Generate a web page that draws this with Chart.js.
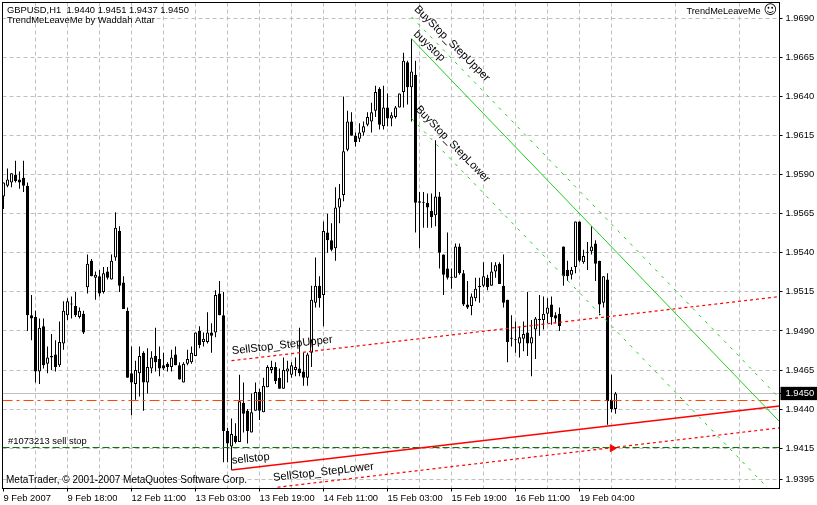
<!DOCTYPE html>
<html>
<head>
<meta charset="utf-8">
<title>GBPUSD,H1</title>
<script src="https://cdn.jsdelivr.net/npm/chart.js@4/dist/chart.umd.min.js"></script>
<style>
  html, body { margin: 0; padding: 0; background: #fff; }
  canvas { display: block; }
</style>
</head>
<body>
<canvas id="chart" width="817" height="505"></canvas>
<script>
const opens = [
  1.9576,1.9583,1.9585,1.9590,1.9587,1.9588,1.9583,1.9500,1.9499,1.9464,
  1.9493,1.9469,1.9473,1.9475,1.9468,1.9482,1.9500,1.9507,1.9506,1.9499,
  1.9501,1.9518,1.9535,1.9524,1.9525,1.9515,1.9528,1.9523,1.9537,1.9554,
  1.9521,1.9503,1.9463,1.9456,1.9463,1.9476,1.9457,1.9466,1.9474,1.9472,
  1.9468,1.9469,1.9467,1.9475,1.9468,1.9457,1.9469,1.9470,1.9474,1.9490,
  1.9483,1.9483,1.9489,1.9489,1.9514,1.9500,1.9426,1.9416,1.9423,1.9419,
  1.9444,1.9439,1.9425,1.9439,1.9451,1.9438,1.9454,1.9465,1.9467,1.9460,
  1.9453,1.9464,1.9462,1.9465,1.9466,1.9464,1.9460,1.9476,1.9508,1.9519,
  1.9513,1.9553,1.9548,1.9543,1.9569,1.9577,1.9606,1.9624,1.9615,1.9613,
  1.9617,1.9622,1.9624,1.9631,1.9645,1.9621,1.9633,1.9626,1.9627,1.9633,
  1.9643,1.9662,1.9646,1.9654,1.9573,1.9572,1.9572,1.9567,1.9564,1.9576,
  1.9539,1.9530,1.9524,1.9524,1.9544,1.9527,1.9507,1.9506,1.9511,1.9518,
  1.9519,1.9524,1.9519,1.9528,1.9533,1.9519,1.9510,1.9485,1.9484,1.9482,
  1.9485,1.9489,1.9482,1.9491,1.9497,1.9497,1.9501,1.9507,1.9500,1.9501,
  1.9544,1.9529,1.9526,1.9531,1.9560,1.9534,1.9540,1.9541,1.9546,1.9535,
  1.9508,1.9523,1.9446,1.9440
];
const highs = [
  1.9585,1.9594,1.9591,1.9599,1.9592,1.9599,1.9585,1.9513,1.9503,1.9498,
  1.9498,1.9480,1.9488,1.9484,1.9496,1.9509,1.9511,1.9512,1.9515,1.9505,
  1.9503,1.9539,1.9536,1.9528,1.9529,1.9531,1.9531,1.9539,1.9566,1.9557,
  1.9525,1.9505,1.9480,1.9471,1.9480,1.9477,1.9479,1.9477,1.9492,1.9480,
  1.9476,1.9470,1.9478,1.9480,1.9470,1.9470,1.9478,1.9480,1.9489,1.9493,
  1.9489,1.9502,1.9495,1.9516,1.9522,1.9515,1.9428,1.9434,1.9431,1.9462,
  1.9457,1.9440,1.9450,1.9457,1.9453,1.9460,1.9468,1.9471,1.9470,1.9466,
  1.9473,1.9471,1.9470,1.9473,1.9492,1.9476,1.9476,1.9519,1.9537,1.9525,
  1.9560,1.9565,1.9559,1.9582,1.9584,1.9640,1.9631,1.9630,1.9617,1.9623,
  1.9624,1.9630,1.9636,1.9647,1.9646,1.9647,1.9642,1.9630,1.9634,1.9642,
  1.9668,1.9663,1.9677,1.9663,1.9579,1.9579,1.9578,1.9578,1.9612,1.9579,
  1.9539,1.9553,1.9530,1.9546,1.9546,1.9529,1.9522,1.9514,1.9524,1.9524,
  1.9534,1.9526,1.9534,1.9534,1.9534,1.9539,1.9510,1.9500,1.9496,1.9493,
  1.9496,1.9515,1.9497,1.9499,1.9513,1.9512,1.9511,1.9512,1.9502,1.9505,
  1.9544,1.9535,1.9531,1.9560,1.9560,1.9542,1.9547,1.9557,1.9548,1.9535,
  1.9525,1.9527,1.9462,1.9451
];
const lows = [
  1.9568,1.9582,1.9582,1.9585,1.9581,1.9579,1.9490,1.9484,1.9457,1.9456,
  1.9466,1.9463,1.9465,1.9464,1.9467,1.9478,1.9497,1.9498,1.9499,1.9498,
  1.9488,1.9514,1.9525,1.9510,1.9512,1.9514,1.9523,1.9523,1.9535,1.9515,
  1.9504,1.9460,1.9436,1.9446,1.9448,1.9439,1.9450,1.9463,1.9464,1.9461,
  1.9465,1.9464,1.9464,1.9468,1.9459,1.9457,1.9468,1.9469,1.9474,1.9479,
  1.9480,1.9482,1.9476,1.9486,1.9500,1.9406,1.9406,1.9401,1.9418,1.9419,
  1.9425,1.9418,1.9425,1.9439,1.9433,1.9438,1.9454,1.9463,1.9456,1.9453,
  1.9453,1.9457,1.9460,1.9461,1.9461,1.9455,1.9455,1.9467,1.9505,1.9505,
  1.9493,1.9540,1.9541,1.9535,1.9559,1.9573,1.9605,1.9615,1.9608,1.9611,
  1.9615,1.9621,1.9617,1.9627,1.9619,1.9619,1.9621,1.9621,1.9626,1.9633,
  1.9633,1.9635,1.9624,1.9553,1.9543,1.9556,1.9556,1.9556,1.9557,1.9530,
  1.9513,1.9523,1.9517,1.9524,1.9526,1.9506,1.9504,1.9500,1.9509,1.9508,
  1.9518,1.9516,1.9519,1.9524,1.9520,1.9505,1.9470,1.9480,1.9476,1.9473,
  1.9477,1.9474,1.9461,1.9472,1.9487,1.9491,1.9495,1.9494,1.9495,1.9490,
  1.9519,1.9522,1.9523,1.9527,1.9534,1.9533,1.9529,1.9539,1.9522,1.9500,
  1.9505,1.9430,1.9438,1.9437
];
const closes = [
  1.9585,1.9587,1.9591,1.9586,1.9585,1.9583,1.9500,1.9498,1.9464,1.9492,
  1.9468,1.9473,1.9474,1.9467,1.9483,1.9503,1.9509,1.9507,1.9500,1.9503,
  1.9489,1.9533,1.9525,1.9526,1.9514,1.9527,1.9524,1.9535,1.9556,1.9519,
  1.9504,1.9460,1.9457,1.9465,1.9474,1.9457,1.9467,1.9473,1.9470,1.9466,
  1.9466,1.9467,1.9473,1.9468,1.9459,1.9469,1.9472,1.9476,1.9489,1.9481,
  1.9485,1.9489,1.9487,1.9513,1.9500,1.9426,1.9418,1.9424,1.9419,1.9445,
  1.9437,1.9426,1.9438,1.9451,1.9439,1.9455,1.9467,1.9467,1.9458,1.9453,
  1.9465,1.9466,1.9468,1.9467,1.9463,1.9460,1.9475,1.9510,1.9519,1.9511,
  1.9554,1.9548,1.9542,1.9569,1.9575,1.9605,1.9624,1.9615,1.9611,1.9617,
  1.9621,1.9627,1.9630,1.9643,1.9622,1.9633,1.9626,1.9628,1.9633,1.9642,
  1.9663,1.9646,1.9656,1.9572,1.9572,1.9572,1.9569,1.9563,1.9576,1.9540,
  1.9526,1.9524,1.9524,1.9544,1.9527,1.9507,1.9505,1.9512,1.9517,1.9519,
  1.9525,1.9518,1.9528,1.9532,1.9520,1.9508,1.9483,1.9485,1.9484,1.9486,
  1.9488,1.9482,1.9486,1.9498,1.9497,1.9501,1.9505,1.9499,1.9498,1.9493,
  1.9525,1.9525,1.9529,1.9560,1.9535,1.9538,1.9540,1.9544,1.9533,1.9507,
  1.9525,1.9445,1.9440,1.9450
];

const xTickLabels = ["9 Feb 2007","9 Feb 18:00","12 Feb 11:00","13 Feb 03:00","13 Feb 19:00",
  "14 Feb 11:00","15 Feb 03:00","15 Feb 19:00","16 Feb 11:00","19 Feb 04:00"];
const priceTicks = [1.9690,1.9665,1.9640,1.9615,1.9590,1.9565,1.9540,1.9515,1.9490,1.9465,
  1.9450,1.9440,1.9415,1.9395];
const lastPrice = 1.9450;

// trend lines: bar index and price at both ends
const buyLine = [[102,1.9677],[194,1.9432]];
const buyUpper = [[102,1.9691],[194,1.9447]];
const buyLower = [[102,1.9626],[190.5,1.9391]];
const sellLine = [[57,1.9401],[194,1.9442]];
const sellUpper = [[57,1.9471],[194,1.9512]];
const sellLower = [[68.5,1.9390],[194,1.9428]];
const bidLine = [[-0.25,1.9450],[194,1.9450]];
const stopLine = [[-0.25,1.94455],[194,1.94455]];
const orderLine = [[-0.25,1.94154],[194,1.94154]];
const arrowPoint = [[152.2,1.9415]];

// text, bar index, price, angle
const lineLabels = [
  ["BuyStop_StepUpper",103.1,1.9697,45],
  ["buystop",102.9,1.9681,44],
  ["BuyStop_StepLower",103.4,1.9633,46],
  ["SellStop_StepUpper",57.1,1.9477,-6.7],
  ["sellstop",57.1,1.9407,-6],
  ["SellStop_StepLower",67.4,1.9396,-6.5]
];

const FONT = '"Liberation Sans"';

function toPoints(list) {
  return list.map(p => ({ x: p[0], y: p[1] }));
}

function lineSet(list, color, width, dash, order) {
  return {
    type: "line", data: toPoints(list), borderColor: color, borderWidth: width,
    borderDash: dash, pointRadius: 0, tension: 0, order: order
  };
}

const overlayText = {
  id: "overlayText",
  afterDraw(chart) {
    const { ctx, chartArea, scales } = chart;
    ctx.save();
    ctx.strokeStyle = "#000";
    ctx.lineWidth = 1;
    ctx.strokeRect(chartArea.left, chartArea.top, chartArea.width, chartArea.height);

    ctx.fillStyle = "#000";
    ctx.textBaseline = "middle";
    ctx.textAlign = "left";
    ctx.font = "9.4px " + FONT;
    ctx.fillText("GBPUSD,H1  " + [opens, highs, lows, closes].map(a => a[a.length - 1].toFixed(4)).join(" "), 7, 10.5);
    ctx.fillText("TrendMeLeaveMe by Waddah Attar", 7, 20.5);
    ctx.fillText("#1073213 sell stop", 8, 441.5);
    ctx.font = "9.2px " + FONT;
    ctx.fillText("TrendMeLeaveMe", 686.5, 11.5);
    ctx.font = "10px " + FONT;
    ctx.fillText("MetaTrader, © 2001-2007 MetaQuotes Software Corp.", 6, 480);
    ctx.font = '13px "DejaVu Sans"';
    ctx.fillText("☺", 763.5, 11);

    ctx.font = "11.2px " + FONT;
    lineLabels.forEach(l => {
      ctx.save();
      ctx.translate(scales.x.getPixelForValue(l[1]), scales.y.getPixelForValue(l[2]));
      ctx.rotate(l[3] * Math.PI / 180);
      ctx.fillText(l[0], 0, 0);
      ctx.restore();
    });
    ctx.restore();
  }
};

new Chart(document.getElementById("chart"), {
  type: "bar",
  data: {
    datasets: [
      lineSet(bidLine, "#c0c0c0", 1, [], 5),
      lineSet(stopLine, "#ff4500", 1, [10, 4, 3, 4], 1),
      lineSet(orderLine, "#007000", 1, [7, 3], 1),
      lineSet(buyLine, "#22cc22", 1, [], 0),
      lineSet(buyUpper, "#22cc22", 1, [3, 6], 0),
      lineSet(buyLower, "#22cc22", 1, [3, 6], 0),
      lineSet(sellLine, "#ff0000", 1.5, [], 0),
      lineSet(sellUpper, "#ff0000", 1.2, [3, 3], 0),
      lineSet(sellLower, "#ff0000", 1.2, [3, 3], 0),
      {
        type: "line", data: toPoints(arrowPoint), showLine: false, order: 0,
        pointStyle: "triangle", rotation: 90, pointRadius: 4,
        pointBackgroundColor: "#ff0000", pointBorderColor: "#ff0000"
      },
      {
        label: "body", order: 2, grouped: false, barThickness: 3, minBarLength: 1,
        borderWidth: 1, borderColor: "#000", borderSkipped: false, inflateAmount: 0,
        backgroundColor: opens.map((o, i) => closes[i] > o ? "#fff" : "#000"),
        data: opens.map((o, i) => ({ x: i, y: [o, closes[i]] }))
      },
      {
        label: "wick", order: 3, grouped: false, barThickness: 1, borderWidth: 0, inflateAmount: 0,
        backgroundColor: "#000",
        data: lows.map((l, i) => ({ x: i, y: [l, highs[i]] }))
      }
    ]
  },
  plugins: [overlayText],
  options: {
    responsive: false,
    animation: false,
    layout: { autoPadding: false, padding: { left: 2.5, top: 2.5, right: 0, bottom: 0 } },
    plugins: { legend: { display: false }, tooltip: { enabled: false } },
    scales: {
      x: {
        type: "linear", min: -0.25, max: 194, offset: false,
        afterBuildTicks(ax) {
          ax.ticks = [];
          for (let i = 0; i <= 192; i += 8) ax.ticks.push({ value: i });
        },
        afterFit(ax) {
          ax.height = 16.5;
          ax.paddingLeft = ax.paddingRight = 0;
        },
        grid: {
          offset: false,
          color: c => (c.tick && c.tick.value === 0) ? "transparent" : "#c0c0c0",
          tickColor: c => (c.tick && c.tick.value % 16 === 0) ? "#000" : "transparent",
          tickLength: 3
        },
        border: { color: "#000", dash: [4, 3] },
        ticks: {
          autoSkip: false, maxRotation: 0, minRotation: 0, align: "start", padding: 1,
          color: "#000", font: { family: FONT, size: 9.4 },
          callback: v => v % 16 === 0 ? xTickLabels[v / 16] : ""
        }
      },
      y: {
        type: "linear", position: "right", min: 1.93892, max: 1.97002,
        afterBuildTicks(ax) {
          ax.ticks = priceTicks.map(v => ({ value: v }));
        },
        afterFit(ax) {
          ax.width = 37.5;
          ax.paddingTop = ax.paddingBottom = 0;
        },
        grid: {
          color: c => (c.tick && c.tick.value === lastPrice) ? "transparent" : "#c0c0c0",
          tickColor: "#000",
          tickLength: 3
        },
        border: { color: "#000", dash: [4, 3] },
        ticks: {
          padding: 3, autoSkip: false,
          font: { family: FONT, size: 9.4 },
          color: c => c.tick.value === lastPrice ? "#fff" : "#000",
          showLabelBackdrop: c => c.tick.value === lastPrice,
          backdropColor: "#000",
          backdropPadding: { left: 5, right: 5, top: 1, bottom: 1 },
          callback: v => v.toFixed(4)
        }
      }
    }
  }
});
</script>
</body>
</html>
